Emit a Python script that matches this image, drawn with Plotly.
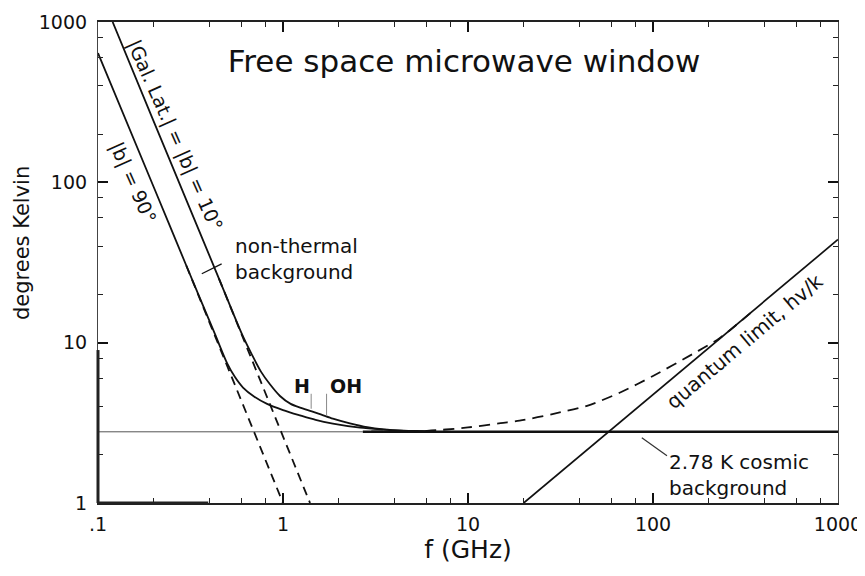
import plotly.graph_objects as go

FONT = "DejaVu Sans"

# values: frequency in GHz, temperature in K
gal10_f = [0.12, 0.2, 0.3, 0.45, 0.6, 0.68, 0.76, 0.85, 0.963, 1.1, 1.25, 1.40, 1.6, 1.86, 2.3, 2.85, 3.5, 4.5, 6.5]
gal10_t = [1000, 240, 77.8, 25.2, 11.3, 8.4, 6.6, 5.5, 4.65, 4.15, 3.92, 3.75, 3.57, 3.36, 3.14, 2.97, 2.88, 2.83, 2.80]

gal90_f = [0.1, 0.2, 0.3, 0.429, 0.5, 0.55, 0.608, 0.7, 0.82, 1.0, 1.236, 1.5, 1.86, 2.61, 3.5, 4.5, 6.0]
gal90_t = [640, 93.5, 30.3, 11.3, 7.4, 6.1, 5.25, 4.6, 4.15, 3.8, 3.52, 3.3, 3.13, 2.95, 2.87, 2.82, 2.80]

# pure power-law (non-thermal) continuation, dashed
sync10_f = [0.45, 1.40]
sync10_t = [25.2, 1.0]
sync90_f = [0.3, 1.0]
sync90_t = [30.3, 1.0]

# cosmic background + quantum limit, dashed
window_f = [3, 6, 10, 15, 19, 29, 44, 66, 100, 164, 230, 347]
window_t = [2.80, 2.82, 2.96, 3.15, 3.26, 3.6, 4.04, 4.87, 6.2, 8.5, 10.7, 15.8]

quantum_f = [20, 1000]
quantum_t = [1, 44]

cmb_t = 2.78
cmb_thin_f = [0.1, 2.7]
cmb_thick_f = [2.7, 1000]

# small marker lines
nonthermal_tick_f = [0.364, 0.466]
nonthermal_tick_t = [26.9, 31.0]
h_line_f = [1.42, 1.42]
h_line_t = [3.87, 4.8]
oh_line_f = [1.72, 1.72]
oh_line_t = [3.5, 4.8]
cmb_leader_f = [87, 119]
cmb_leader_t = [2.55, 1.97]

x_ticks = [0.1, 1, 10, 100, 1000]
x_ticktext = ['.1', '1', '10', '100', '1000']
y_ticks = [1, 10, 100, 1000]
y_ticktext = ['1', '10', '100', '1000']
minor_x = [m * d for d in [0.1, 1, 10, 100] for m in [2, 4, 6, 8]]
minor_y = [m * d for d in [1, 10, 100] for m in [2, 4, 6, 8]]


def line(x, y, width=1.8, color='#111', dash='solid', shape='linear'):
    return go.Scatter(x=x, y=y, mode='lines', hoverinfo='skip',
                      line=dict(width=width, color=color, dash=dash, shape=shape, smoothing=0.8))


def all_ticks(major, minor, labels):
    vals = sorted(major + minor)
    text = [labels[major.index(v)] if v in major else '' for v in vals]
    return vals, text


def create_figure():
    fig = go.Figure()
    fig.add_trace(line(cmb_thin_f, [cmb_t, cmb_t], width=1, color='#555'))
    fig.add_trace(line(cmb_thick_f, [cmb_t, cmb_t], width=2.6))
    fig.add_trace(line(gal10_f, gal10_t, shape='spline'))
    fig.add_trace(line(gal90_f, gal90_t, shape='spline'))
    fig.add_trace(line(sync10_f, sync10_t, width=1.8, dash='9px,6px'))
    fig.add_trace(line(sync90_f, sync90_t, width=1.8, dash='9px,6px'))
    fig.add_trace(line(window_f, window_t, width=1.8, dash='11px,7px', shape='spline'))
    fig.add_trace(line(quantum_f, quantum_t, width=1.7))
    fig.add_trace(line(nonthermal_tick_f, nonthermal_tick_t, width=1.3))
    fig.add_trace(line(h_line_f, h_line_t, width=1, color='#888'))
    fig.add_trace(line(oh_line_f, oh_line_t, width=1, color='#888'))
    fig.add_trace(line(cmb_leader_f, cmb_leader_t, width=1.2, color='#333'))
    # invisible traces so the long-major-tick overlay axes get drawn
    fig.add_trace(go.Scatter(x=[1], y=[10], xaxis='x2', yaxis='y', mode='markers',
                             marker_opacity=0, hoverinfo='skip'))
    fig.add_trace(go.Scatter(x=[1], y=[10], xaxis='x', yaxis='y2', mode='markers',
                             marker_opacity=0, hoverinfo='skip'))

    txt = dict(family=FONT, size=20, color='#111')
    bold = dict(family=FONT, size=19, color='#111', weight='bold')
    notes = [
        dict(text='|Gal. Lat.| = |b| = 10°', x=-0.585, y=2.29, textangle=66, font=dict(txt, size=19)),
        dict(text='|b| = 90°', x=-0.8108, y=2.0, textangle=66, font=dict(txt, size=19)),
        dict(text='non-thermal<br>background', x=-0.2703, y=1.52, xanchor='left', align='left'),
        dict(text='H', x=0.1027, y=0.731, font=bold),
        dict(text='OH', x=0.3405, y=0.731, font=bold),
        dict(text='quantum limit, hv/k', x=2.497, y=1.0125, textangle=-40),
        dict(text='2.78 K cosmic<br>background', x=2.0757, y=0.175, xanchor='left', align='left'),
    ]
    for n in notes:
        fig.add_annotation(**{'showarrow': False, 'xref': 'x', 'yref': 'y', 'font': txt,
                              'xanchor': 'center', 'yanchor': 'middle', **n})

    # y title sits above the middle of the axis in the original
    fig.add_annotation(text='degrees Kelvin', xref='paper', yref='paper', x=-0.1027, y=0.5405,
                       textangle=-90, showarrow=False, xanchor='center', yanchor='middle',
                       font=dict(family=FONT, size=21, color='#111'))

    # darker scan-like stretches of the frame
    fig.add_shape(type='line', xref='x domain', yref='y domain', x0=0, x1=0, y0=0, y1=0.318,
                  line=dict(color='#222', width=3))
    fig.add_shape(type='line', xref='x domain', yref='y domain', x0=0, x1=0.149, y0=0, y1=0,
                  line=dict(color='#222', width=3))

    xv, xt = all_ticks(x_ticks, minor_x, x_ticktext)
    yv, yt = all_ticks(y_ticks, minor_y, y_ticktext)

    # page is shown with an 8px body margin, so the plot box is shifted up-left by 8px
    fig.update_layout(
        width=865, height=576,
        margin=dict(l=90, r=35, t=14, b=81, autoexpand=False),
        plot_bgcolor='white', paper_bgcolor='white',
        showlegend=False,
        title=dict(text='Free space microwave window', xref='paper', yref='paper',
                   x=0.4946, y=0.919, xanchor='center', yanchor='middle',
                   font=dict(family=FONT, size=31, color='#111')),
        xaxis=dict(
            type='log', range=[-1, 3], automargin=False,
            tickvals=xv, ticktext=xt,
            ticks='inside', ticklen=5, tickwidth=1.2, tickcolor='#222',
            showline=True, linecolor='#222', linewidth=1.5, mirror='ticks',
            showgrid=False, zeroline=False,
            tickfont=dict(family=FONT, size=19, color='#111'),
            ticklabelstandoff=3,
            title=dict(text='f (GHz)', font=dict(family=FONT, size=25, color='#111'), standoff=4),
        ),
        yaxis=dict(
            type='log', range=[0, 3], automargin=False,
            tickvals=yv, ticktext=yt,
            ticks='inside', ticklen=5, tickwidth=1.2, tickcolor='#222',
            showline=True, linecolor='#444', linewidth=1.2, mirror='ticks',
            showgrid=False, zeroline=False,
            tickfont=dict(family=FONT, size=19, color='#111'),
            ticklabelstandoff=6,
        ),
        xaxis2=dict(type='log', range=[-1, 3], overlaying='x', anchor='y', side='bottom',
                    tickvals=x_ticks, showticklabels=False, automargin=False,
                    ticks='inside', ticklen=10, tickwidth=1.6, tickcolor='#111',
                    mirror='ticks', showline=False, showgrid=False, zeroline=False),
        yaxis2=dict(type='log', range=[0, 3], overlaying='y', anchor='x', side='left',
                    tickvals=y_ticks, showticklabels=False, automargin=False,
                    ticks='inside', ticklen=10, tickwidth=1.6, tickcolor='#111',
                    mirror='ticks', showline=False, showgrid=False, zeroline=False),
    )
    return fig


fig = create_figure()
fig.write_html("out.html")
